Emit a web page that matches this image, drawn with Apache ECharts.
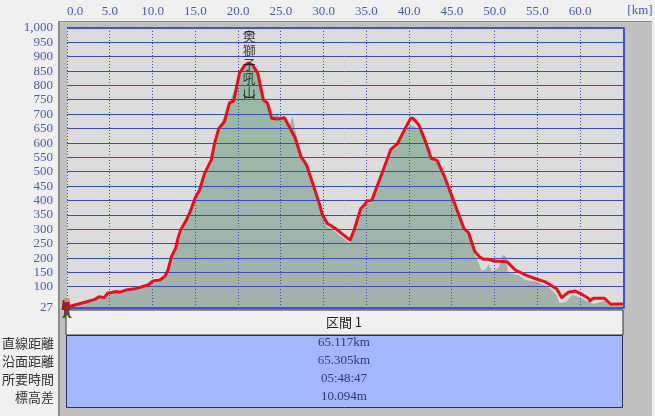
<!DOCTYPE html>
<html><head><meta charset="utf-8">
<style>html,body{margin:0;padding:0;background:#f0f0f0}#c{width:655px;height:416px}</style>
<script src="https://cdn.jsdelivr.net/npm/echarts@6/dist/echarts.min.js"></script></head>
<body><div id="c"></div>
<script>
const routeKm=[0,0.55,2.1,3.26,3.76,4.35,4.74,5.79,6.18,6.96,8.12,9.48,10.06,10.84,11.42,11.81,12.2,12.7,12.97,13.29,13.95,14.39,14.98,15.5,16.08,16.86,17.25,17.75,18.41,18.99,19.5,20.16,20.75,21.2,21.71,22.3,22.96,23.46,23.93,24.63,25.41,25.99,26.69,27.35,28.01,28.79,29.49,29.87,30.45,31.43,33.1,33.57,34.35,34.85,35.05,35.63,36.86,37.84,38.61,39.45,40.17,40.44,41.14,41.99,42.58,43.27,44.06,45.02,46.39,46.97,47.67,48.25,48.72,49.3,49.88,51.43,52.41,53.58,54.93,55.91,57.26,57.84,58.62,59.4,59.99,60.95,61.14,61.54,62.82,63.55,64.84,65.117];
const routeElev=[27,35,47,57,66,63,78,84,82,90,95,107,121,124,136,159,205,234,269,298,333,361,409,437,495,541,599,651,674,740,747,843,869,878,871,843,750,738,686,684,688,657,617,553,524,454,391,350,321,302,263,298,373,388,399,401,498,577,597,646,686,686,663,599,547,539,489,414,304,287,223,204,196,196,190,188,159,142,127,118,93,63,82,86,78,61,52,61,61,40,41,41];
const terrainKm=[0,2.1,3.76,4.74,6.96,9.48,10.84,11.81,12.7,13.95,14.98,16.08,16.86,17.75,18.99,20.16,20.75,21.2,21.71,22.3,22.96,23.46,23.93,24.51,24.9,25.41,25.99,26.37,26.69,27.35,28.01,28.79,29.49,29.87,30.45,31.43,33.1,33.57,34.35,35.05,35.63,36.86,37.84,38.61,39.45,40.17,41.14,41.99,42.58,43.27,44.06,45.02,46.39,46.97,47.67,48.13,48.45,48.91,49.3,49.69,50.47,50.93,51.32,51.55,52.8,53.58,54.9,56.29,57.23,57.58,58.31,59.01,59.79,60.76,61.54,62.82,63.52,64.8,65.117];
const terrainElev=[27,45,63,74,87,104,121,155,230,330,405,492,538,648,737,838,862,870,864,838,745,733,690,704,690,684,660,692,646,550,521,451,388,345,310,290,252,285,365,390,392,490,570,590,640,665,650,590,540,532,482,408,296,277,212,183,157,159,179,153,167,211,208,149,142,124,118,101,72,45,47,72,66,51,41,52,34,34,34];
const kmTicks=[0,5,10,15,20,25,30,35,40,45,50,55,60];
const elevTicks=[27,100,150,200,250,300,350,400,450,500,550,600,650,700,750,800,850,900,950,1000];
const frameKm=[0,65.117,65.117,0];
const frameElev=[1000,1000,27,27];
const kmMax=65.117, elevMin=27, elevMax=1000;
const peakName=['奥','獅','子','吼','山'];
const peakKm=21.3, peakElev=875;
const tableTitle='区間 1';
const rowLabels=['直線距離','沿面距離','所要時間','標高差'];
const rowValues=['65.117km','65.305km','05:48:47','10.094m'];

const zip=(a,b)=>a.map((v,i)=>[v,b[i]]);
const BLUE='#3a4abb', TXT='#4a5ab0', SERIF='"Liberation Serif",serif', CJK='"Noto Sans CJK JP",sans-serif';
const chart=echarts.init(document.getElementById('c'),null,{renderer:'canvas'});
const rowY=[343,361,379,397];
const hiker=(path,size,offset,color)=>({type:'scatter',data:[[0,27]],symbol:'path://'+path,symbolSize:size,symbolOffset:offset,clip:false,silent:true,z:9,itemStyle:{color:color,opacity:1}});
const txt=(x,y,t,align,font,fill)=>({type:'text',z:20,silent:true,style:{x:x,y:y,text:t,align:align,verticalAlign:'middle',font:font,fill:fill}});
const snap=v=>Math.floor(v)+0.5;
const gridSeries=(ticks,vertical)=>({type:'custom',coordinateSystem:'cartesian2d',silent:true,z:4,clip:false,
  encode:{x:vertical?0:1,y:vertical?1:0},
  data:ticks.map(v=>vertical?[v,elevMin]:[v,0]),
  renderItem:(params,api)=>{
    const v=api.value(0);
    const a=vertical?api.coord([v,elevMin]):api.coord([0,v]);
    const b=vertical?api.coord([v,elevMax]):api.coord([kmMax,v]);
    return {type:'line',silent:true,
      shape:vertical?{x1:snap(a[0]),y1:a[1],x2:snap(a[0]),y2:b[1]}:{x1:a[0],y1:snap(a[1]),x2:b[0],y2:snap(a[1])},
      style:{stroke:BLUE,lineWidth:1,lineDash:vertical?[1,2]:null}};
  }});
chart.setOption({
  animation:false,backgroundColor:'#f0f0f0',
  grid:{left:67,right:31,top:28,bottom:108,show:true,backgroundColor:'#dcdcdc',borderWidth:0,z:1},
  xAxis:{type:'value',position:'top',min:0,max:kmMax,
    axisLine:{show:false},
    axisTick:{show:false,customValues:kmTicks},
    axisLabel:{customValues:kmTicks,margin:10,color:TXT,fontFamily:SERIF,fontSize:13,alignMinLabel:'left',formatter:v=>v.toFixed(1)},
    splitLine:{show:false}},
  yAxis:{type:'value',min:elevMin,max:elevMax,
    axisLine:{show:false},
    axisTick:{show:false,customValues:elevTicks},
    axisLabel:{customValues:elevTicks,margin:14,color:TXT,fontFamily:SERIF,fontSize:13,padding:[0,0,4,0],showMinLabel:true,showMaxLabel:true,hideOverlap:false},
    splitLine:{show:false}},
  series:[
    {type:'line',name:'terrain',data:zip(terrainKm,terrainElev),symbol:'none',z:2,silent:true,
      lineStyle:{width:0},
      areaStyle:{opacity:1,color:new echarts.graphic.LinearGradient(0,0,0,1,[{offset:0,color:'#93bba2'},{offset:0.5,color:'#9eb6aa'},{offset:1,color:'#a3b1ac'}])}},
    gridSeries(elevTicks,false),
    gridSeries(kmTicks,true),
    {type:'line',name:'frame',data:zip(frameKm,frameElev),symbol:'none',z:5,silent:true,clip:false,
      lineStyle:{color:'#4553c4',width:2}},
    {type:'line',name:'route',data:zip(routeKm,routeElev),symbol:'none',z:6,silent:true,clip:false,
      lineStyle:{color:'#e60f1e',width:3,join:'round'}},
    {type:'scatter',name:'peak',data:[[peakKm,peakElev]],symbolSize:0,z:7,silent:true,
      label:{show:true,position:'inside',
        formatter:['{p|︵}'].concat(peakName.map(c=>'{c|'+c+'}'),['{q|︶}']).join('\n'),
        rich:{c:{fontFamily:CJK,fontSize:13,lineHeight:14,color:'#111',align:'center'},
              p:{fontFamily:CJK,fontSize:13,lineHeight:2,color:'#111',align:'center'},
              q:{fontFamily:CJK,fontSize:13,lineHeight:2,color:'#111',align:'center'}}}},
    hiker('M2 0L8 0L9 9L1 9Z',[9,10],[-1,-3],'#9c1f30'),
    hiker('M1 0L5 0L5 4L1 4Z',[5,4],[0,-8],'#d09070'),
    hiker('M2 0L7 0L8 5L10 7L7 7L5 4L3 7L0 7L2 4Z',[10,8],[0,6],'#5a4a38')
  ],
  graphic:[
    {type:'rect',z:-10,silent:true,shape:{x:58,y:21,width:594,height:395},style:{fill:'#c0c0c0'}},
    {type:'rect',z:-9,silent:true,shape:{x:58,y:21,width:594,height:1},style:{fill:'#8c8c8c'}},
    {type:'rect',z:-9,silent:true,shape:{x:58,y:21,width:2,height:395},style:{fill:'#8c8c8c'}},
    {type:'rect',z:-8,silent:true,shape:{x:66,y:310,width:557,height:25},style:{fill:'#f0f0f0',stroke:'#333',lineWidth:1}},
    {type:'rect',z:-7,silent:true,shape:{x:66.5,y:335.5,width:556,height:72},style:{fill:'#a4b6ff',stroke:'#25305a',lineWidth:1}},
    txt(640,11,'[km]','center','13px '+SERIF,TXT),
    txt(344,322,tableTitle,'center','13px '+CJK,'#222')
  ].concat(rowLabels.map((t,i)=>txt(54,rowY[i],t,'right','13px '+CJK,'#333')),
    rowValues.map((t,i)=>txt(344,rowY[i],t,'center','13px '+SERIF,'#2a3a70')))
});
</script></body></html>
